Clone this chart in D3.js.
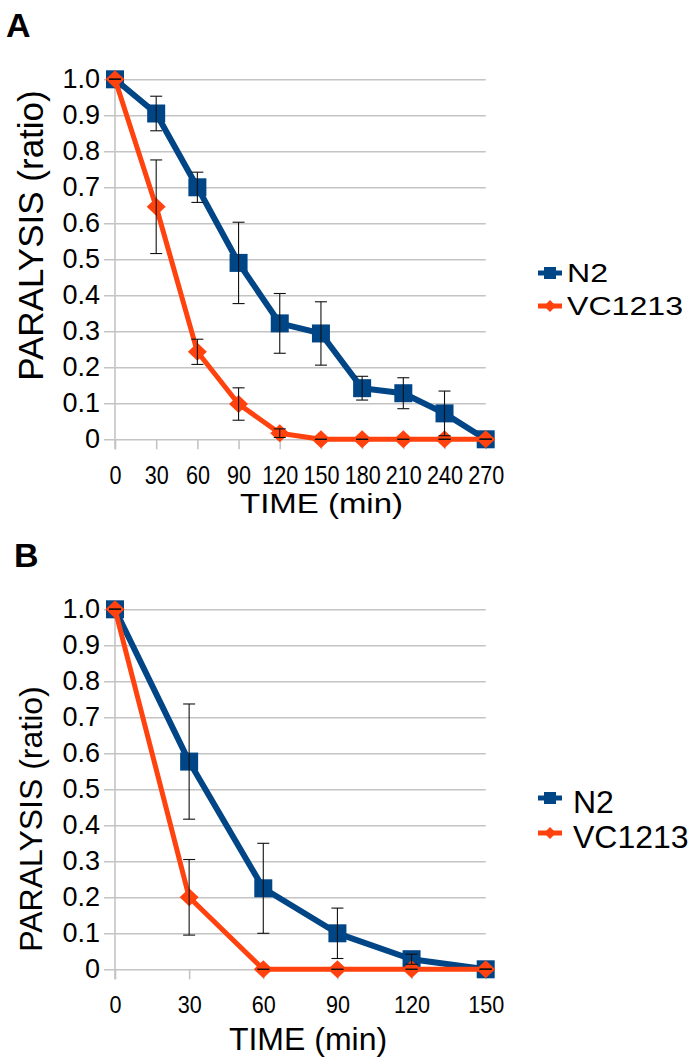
<!DOCTYPE html>
<html>
<head>
<meta charset="utf-8">
<script src="https://cdn.jsdelivr.net/npm/d3@7"></script>
<style>
  html, body { margin: 0; padding: 0; background: #fff; }
  svg { display: block; font-family: "Liberation Sans", Arial, sans-serif; }
</style>
</head>
<body>
<svg id="chart" width="696" height="1064"></svg>
<script>
// ---------- data ----------
const seriesNames = ["N2", "VC1213"];
const yTicks = [0, 0.1, 0.2, 0.3, 0.4, 0.5, 0.6, 0.7, 0.8, 0.9, 1.0];
const yTickLabels = ["0", "0.1", "0.2", "0.3", "0.4", "0.5", "0.6", "0.7", "0.8", "0.9", "1.0"];

const timesA = [0, 30, 60, 90, 120, 150, 180, 210, 240, 270];
const n2A    = [1.0, 0.905, 0.70, 0.49, 0.322, 0.294, 0.142, 0.128, 0.072, 0];
const n2AErr = [0, 0.048, 0.042, 0.113, 0.083, 0.088, 0.033, 0.043, 0.062, 0];
const vcA    = [1.0, 0.646, 0.243, 0.098, 0.017, 0, 0, 0, 0, 0];
const vcAErr = [0, 0.13, 0.035, 0.045, 0.012, 0, 0, 0, 0, 0];

const timesB = [0, 30, 60, 90, 120, 150];
const n2B    = [1.0, 0.577, 0.225, 0.10, 0.028, 0];
const n2BErr = [0, 0.16, 0.125, 0.07, 0.014, 0];
const vcB    = [1.0, 0.20, 0, 0, 0, 0];
const vcBErr = [0, 0.105, 0, 0, 0, 0];

const colors = ["#004586", "#ff420e"];

// ---------- drawing ----------
const svg = d3.select("#chart");

function panel(cfg) {
  const g = svg.append("g");
  const x = d3.scaleLinear().domain([cfg.times[0], cfg.times[cfg.times.length - 1]]).range([115, 485.7]);
  const y = d3.scaleLinear().domain([0, 1]).range([cfg.y0, cfg.y1]);

  // panel letter
  g.append("text").attr("x", cfg.letterX).attr("y", cfg.letterY)
    .attr("font-size", 34).attr("font-weight", "bold").text(cfg.letter);

  // gridlines + y tick labels
  const yAxis = d3.axisLeft(y).tickValues(yTicks)
    .tickFormat((d, i) => yTickLabels[i])
    .tickSize(485.7 - 104).tickPadding(4);
  const ya = g.append("g").attr("transform", "translate(485.7,0)").call(yAxis);
  ya.select(".domain").remove();
  ya.selectAll("line").attr("stroke", "#c4c4c4").attr("stroke-width", 1.6);
  ya.selectAll("text").attr("font-size", 27).attr("fill", "#000")
    .attr("font-family", "Liberation Sans, Arial, sans-serif");

  // vertical axis line
  g.append("line").attr("x1", x(cfg.times[0])).attr("x2", x(cfg.times[0]))
    .attr("y1", y(1)).attr("y2", y(0) + 10)
    .attr("stroke", "#c4c4c4").attr("stroke-width", 1.6);

  // x axis ticks & labels
  const xAxis = d3.axisBottom(x).tickValues(cfg.times).tickFormat(d3.format("d"))
    .tickSize(10).tickPadding(cfg.xPad);
  const xa = g.append("g").attr("transform", `translate(0,${y(0)})`).call(xAxis);
  xa.select(".domain").remove();
  xa.selectAll("line").attr("stroke", "#c4c4c4").attr("stroke-width", 1.6);
  xa.selectAll("text").attr("font-size", cfg.xTickFont).attr("fill", "#000")
    .attr("font-family", "Liberation Sans, Arial, sans-serif")
    .attr("textLength", d => String(d).length * cfg.digitW)
    .attr("lengthAdjust", "spacingAndGlyphs");

  // series
  const series = [
    { vals: cfg.n2, err: cfg.n2Err, color: colors[0], width: 6, shape: "square" },
    { vals: cfg.vc, err: cfg.vcErr, color: colors[1], width: 5, shape: "diamond" }
  ];
  const line = d3.line().x(d => x(d[0])).y(d => y(d[1]));
  series.forEach(s => {
    const pts = cfg.times.map((t, i) => [t, s.vals[i]]);
    g.append("path").attr("d", line(pts)).attr("fill", "none")
      .attr("stroke", s.color).attr("stroke-width", s.width).attr("stroke-linejoin", "round");
    if (s.shape === "square") {
      g.selectAll(null).data(pts).enter().append("rect")
        .attr("x", d => x(d[0]) - 9).attr("y", d => y(d[1]) - 9)
        .attr("width", 18).attr("height", 18).attr("fill", s.color);
    } else {
      g.selectAll(null).data(pts).enter().append("path")
        .attr("d", d => {
          const cx = x(d[0]), cy = y(d[1]);
          return `M${cx},${cy - 9}L${cx + 9.5},${cy}L${cx},${cy + 9}L${cx - 9.5},${cy}Z`;
        })
        .attr("fill", s.color);
    }
  });
  // error bars
  series.forEach(s => {
    cfg.times.forEach((t, i) => {
      const cx = x(t), hi = y(s.vals[i] + s.err[i]), lo = y(s.vals[i] - s.err[i]);
      const eg = g.append("g").attr("stroke", "#111").attr("stroke-width", 1.1);
      eg.append("line").attr("x1", cx).attr("x2", cx).attr("y1", hi).attr("y2", lo);
      eg.append("line").attr("x1", cx - 6).attr("x2", cx + 6).attr("y1", hi).attr("y2", hi);
      eg.append("line").attr("x1", cx - 6).attr("x2", cx + 6).attr("y1", lo).attr("y2", lo);
    });
  });

  // axis titles
  g.append("text").attr("text-anchor", "middle")
    .attr("transform", `translate(${cfg.yTitleX},${cfg.yTitleY}) rotate(-90)`)
    .attr("font-size", cfg.yTitleFont).text("PARALYSIS (ratio)");
  const xt = g.append("text").attr("text-anchor", "middle")
    .attr("x", cfg.xTitleX).attr("y", cfg.xTitleY)
    .attr("font-size", cfg.xTitleFont).text("TIME (min)");
  if (cfg.xTitleLen) xt.attr("textLength", cfg.xTitleLen).attr("lengthAdjust", "spacingAndGlyphs");

  // legend
  series.forEach((s, i) => {
    const ly = cfg.legendY[i];
    g.append("line").attr("x1", 538).attr("x2", 562).attr("y1", ly).attr("y2", ly)
      .attr("stroke", s.color).attr("stroke-width", 5);
    if (s.shape === "square") {
      g.append("rect").attr("x", 544).attr("y", ly - 6).attr("width", 12).attr("height", 12).attr("fill", s.color);
    } else {
      g.append("path").attr("d", `M550,${ly - 6}L556,${ly}L550,${ly + 6}L544,${ly}Z`).attr("fill", s.color);
    }
    const lt = g.append("text").attr("x", cfg.legendTextX).attr("y", ly + cfg.legendDy)
      .attr("font-size", cfg.legendFont).text(seriesNames[i]);
    if (cfg.legendLens) lt.attr("textLength", cfg.legendLens[i]).attr("lengthAdjust", "spacingAndGlyphs");
  });
}

panel({
  letter: "A", letterX: 6, letterY: 37,
  times: timesA, n2: n2A, n2Err: n2AErr, vc: vcA, vcErr: vcAErr,
  y0: 439.3, y1: 79.3,
  xPad: 17, xTickFont: 25, digitW: 12,
  yTitleX: 43, yTitleY: 235.5, yTitleFont: 35,
  xTitleX: 321.5, xTitleY: 513, xTitleFont: 28, xTitleLen: 163,
  legendY: [273, 306], legendTextX: 567, legendDy: 9, legendFont: 25, legendLens: [41, 116]
});

panel({
  letter: "B", letterX: 14, letterY: 567,
  times: timesB, n2: n2B, n2Err: n2BErr, vc: vcB, vcErr: vcBErr,
  y0: 969.3, y1: 609.3,
  xPad: 17, xTickFont: 24, digitW: 12,
  yTitleX: 42, yTitleY: 819, yTitleFont: 32,
  xTitleX: 308, xTitleY: 1050, xTitleFont: 32, xTitleLen: null,
  legendY: [798, 833], legendTextX: 573, legendDy: 15, legendFont: 32, legendLens: null
});
</script>
</body>
</html>
